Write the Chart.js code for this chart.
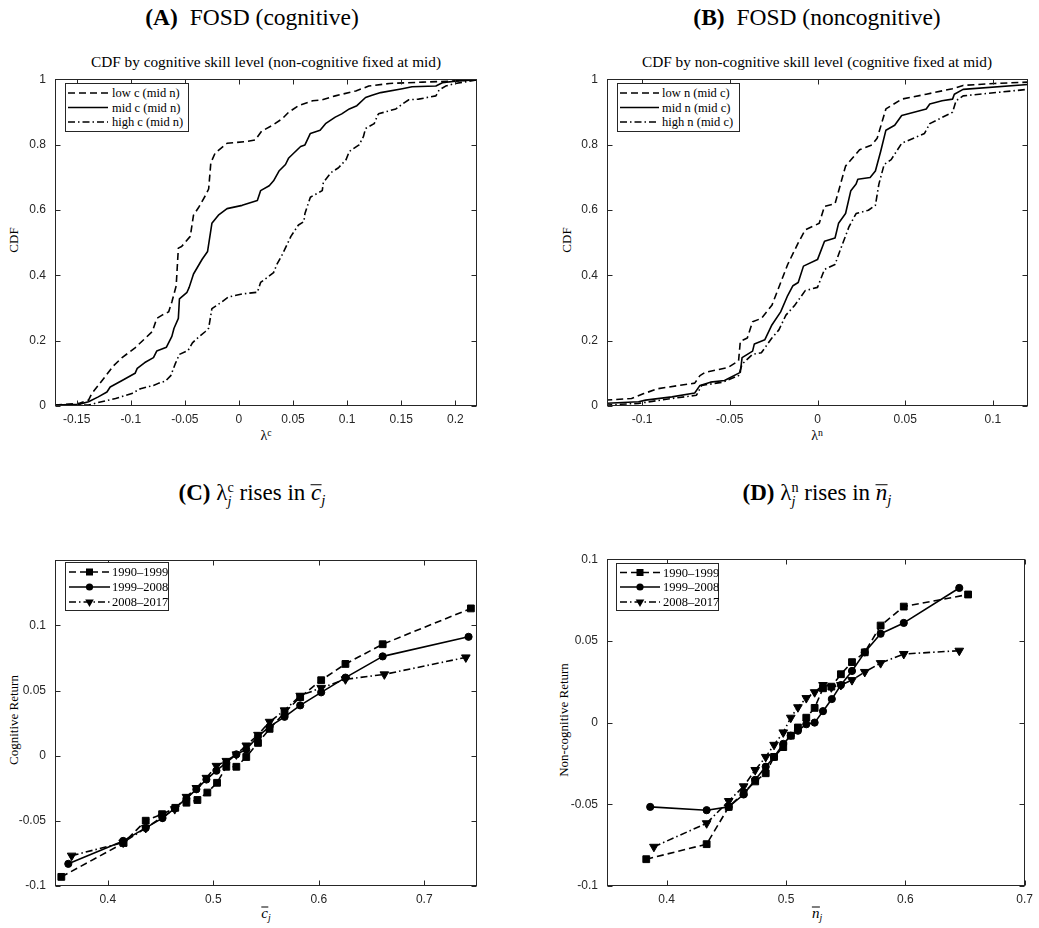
<!DOCTYPE html>
<html><head><meta charset="utf-8">
<script src="https://cdn.jsdelivr.net/npm/chart.js@4"></script>
<style>
html,body{margin:0;padding:0;background:#fff;overflow:hidden;width:1039px;height:928px;position:relative;}
.pc{position:absolute;}
.t{position:absolute;font-family:"Liberation Serif","Times New Roman",serif;color:#000;white-space:nowrap;transform:translate(-50%,-50%);line-height:1;}
.rot{transform:translate(-50%,-50%) rotate(-90deg);}
.ss{display:inline-block;vertical-align:-0.42em;line-height:0.95;font-size:0.62em;text-align:left;}
.ss span{display:block;}
.ov{display:inline-block;font-style:italic;border-top:1px solid #000;line-height:0.55em;padding-top:0.08em;}
.it{font-style:italic;}
sub.s{font-size:0.65em;vertical-align:-0.35em;line-height:0;}
sup.s{font-size:0.7em;vertical-align:0.45em;line-height:0;}
</style>
</head><body>

<div class="t" style="left:252px;top:18px;font-size:23.5px"><b>(A)</b>&nbsp; FOSD (cognitive)</div>
<div class="t" style="left:817px;top:18px;font-size:23.5px"><b>(B)</b>&nbsp; FOSD (noncognitive)</div>
<div class="t" style="left:252px;top:495px;font-size:23px"><b>(C)</b> λ<span class="ss"><span>c</span><span class="it">j</span></span> rises in <span class="ov">c</span><sub class="s it">j</sub></div>
<div class="t" style="left:817px;top:495px;font-size:23px"><b>(D)</b> λ<span class="ss"><span>n</span><span class="it">j</span></span> rises in <span class="ov">n</span><sub class="s it">j</sub></div>

<div class="t" style="left:266px;top:62px;font-size:15.3px">CDF by cognitive skill level (non-cognitive fixed at mid)</div>
<div class="t" style="left:817px;top:62px;font-size:15.3px">CDF by non-cognitive skill level (cognitive fixed at mid)</div>

<div class="t rot" style="left:13px;top:240px;font-size:13px">CDF</div>
<div class="t rot" style="left:566px;top:240px;font-size:13px">CDF</div>
<div class="t rot" style="left:13px;top:720px;font-size:13px">Cognitive Return</div>
<div class="t rot" style="left:563px;top:720px;font-size:13px">Non-cognitive Return</div>

<div class="t" style="left:266px;top:436px;font-size:14px">λ<sup class="s">c</sup></div>
<div class="t" style="left:817px;top:436px;font-size:14px">λ<sup class="s">n</sup></div>
<div class="t" style="left:266px;top:913px;font-size:15px"><span class="ov">c</span><sub class="s it">j</sub></div>
<div class="t" style="left:817px;top:913px;font-size:15px"><span class="ov">n</span><sub class="s it">j</sub></div>

<script>
// ---------------- DATA ----------------
// Panel A: CDF by cognitive skill level
const A_low_x = [-0.17,-0.148,-0.139,-0.136,-0.13,-0.116,-0.108,-0.096,-0.080,-0.076,-0.071,-0.065,-0.062,-0.058,-0.056,-0.053,-0.045,-0.042,-0.037,-0.031,-0.028,-0.026,-0.022,-0.011,0.006,0.015,0.021,0.031,0.040,0.046,0.055,0.068,0.077,0.089,0.108,0.120,0.139,0.170,0.194,0.222];
const A_low_y = [0.003,0.008,0.018,0.038,0.063,0.123,0.148,0.178,0.228,0.268,0.278,0.288,0.318,0.368,0.483,0.488,0.519,0.584,0.609,0.644,0.664,0.744,0.774,0.804,0.809,0.814,0.841,0.859,0.879,0.899,0.919,0.934,0.937,0.949,0.964,0.979,0.987,0.991,0.994,0.999];
const A_mid_x = [-0.17,-0.148,-0.139,-0.13,-0.122,-0.119,-0.108,-0.096,-0.094,-0.087,-0.079,-0.076,-0.067,-0.062,-0.060,-0.056,-0.055,-0.048,-0.046,-0.042,-0.034,-0.029,-0.025,-0.019,-0.011,0.003,0.017,0.020,0.028,0.032,0.037,0.043,0.046,0.057,0.061,0.066,0.075,0.080,0.089,0.095,0.102,0.109,0.117,0.123,0.131,0.151,0.160,0.182,0.188,0.200,0.222];
const A_mid_y = [0.003,0.005,0.013,0.028,0.043,0.058,0.078,0.100,0.115,0.133,0.148,0.168,0.180,0.213,0.238,0.268,0.328,0.348,0.363,0.404,0.449,0.473,0.559,0.584,0.604,0.614,0.629,0.659,0.674,0.689,0.719,0.739,0.759,0.794,0.799,0.834,0.844,0.864,0.884,0.894,0.909,0.919,0.944,0.951,0.959,0.971,0.977,0.979,0.989,0.994,0.999];
const A_high_x = [-0.17,-0.139,-0.127,-0.114,-0.099,-0.091,-0.079,-0.074,-0.068,-0.063,-0.059,-0.055,-0.047,-0.043,-0.040,-0.031,-0.028,-0.025,-0.016,-0.010,0.003,0.017,0.020,0.028,0.032,0.035,0.040,0.048,0.055,0.060,0.061,0.066,0.077,0.078,0.085,0.092,0.099,0.102,0.111,0.115,0.117,0.125,0.128,0.129,0.145,0.151,0.157,0.166,0.182,0.185,0.191,0.200,0.222];
const A_high_y = [0.0,0.003,0.013,0.023,0.038,0.053,0.063,0.070,0.076,0.093,0.128,0.158,0.170,0.193,0.203,0.228,0.238,0.298,0.318,0.333,0.343,0.348,0.378,0.398,0.408,0.433,0.463,0.519,0.554,0.564,0.589,0.639,0.659,0.684,0.714,0.729,0.754,0.779,0.799,0.824,0.849,0.864,0.889,0.894,0.909,0.924,0.937,0.939,0.949,0.967,0.979,0.987,0.999];

// Panel B: CDF by non-cognitive skill level
const B_low_x = [-0.121,-0.106,-0.099,-0.091,-0.070,-0.067,-0.064,-0.051,-0.045,-0.044,-0.040,-0.037,-0.032,-0.026,-0.017,-0.011,-0.007,0.001,0.004,0.010,0.016,0.024,0.031,0.034,0.039,0.048,0.062,0.077,0.083,0.101,0.12];
const B_low_y = [0.018,0.023,0.038,0.053,0.070,0.093,0.103,0.118,0.138,0.198,0.208,0.258,0.268,0.308,0.433,0.499,0.539,0.559,0.611,0.619,0.734,0.784,0.799,0.819,0.909,0.939,0.954,0.971,0.981,0.987,0.991];
const B_mid_x = [-0.121,-0.102,-0.098,-0.083,-0.070,-0.067,-0.061,-0.053,-0.044,-0.043,-0.037,-0.036,-0.030,-0.026,-0.021,-0.017,-0.014,-0.011,-0.008,0.000,0.004,0.010,0.012,0.016,0.019,0.022,0.023,0.030,0.033,0.036,0.039,0.044,0.048,0.062,0.064,0.071,0.077,0.078,0.083,0.12];
const B_mid_y = [0.008,0.013,0.018,0.028,0.040,0.063,0.073,0.078,0.103,0.148,0.168,0.190,0.203,0.248,0.288,0.338,0.368,0.378,0.428,0.448,0.504,0.514,0.559,0.589,0.659,0.679,0.694,0.699,0.719,0.779,0.844,0.859,0.889,0.909,0.924,0.934,0.939,0.954,0.969,0.984];
const B_high_x = [-0.121,-0.102,-0.083,-0.069,-0.066,-0.054,-0.045,-0.043,-0.037,-0.032,-0.026,-0.022,-0.018,-0.013,-0.007,0.000,0.004,0.010,0.013,0.018,0.022,0.029,0.033,0.035,0.038,0.042,0.048,0.061,0.064,0.077,0.079,0.083,0.12];
const B_high_y = [0.003,0.008,0.023,0.033,0.063,0.073,0.093,0.128,0.158,0.163,0.208,0.233,0.278,0.308,0.353,0.363,0.418,0.433,0.478,0.549,0.589,0.599,0.614,0.679,0.739,0.754,0.804,0.834,0.864,0.899,0.934,0.949,0.969];

// Panel C: cognitive return vs mean c
const C_9099_x = [0.356,0.415,0.436,0.4515,0.464,0.4746,0.485,0.4944,0.5036,0.5124,0.5219,0.5313,0.5424,0.5534,0.5676,0.5824,0.6023,0.6253,0.6606,0.7442];
const C_9099_y = [-0.093,-0.067,-0.0499,-0.0449,-0.040,-0.0361,-0.034,-0.0283,-0.0208,-0.0085,-0.0085,-0.001,0.0098,0.0206,0.033,0.0449,0.0579,0.0704,0.0855,0.113];
const C_9908_x = [0.3626,0.4146,0.436,0.4519,0.4635,0.4746,0.484,0.4935,0.503,0.5124,0.5219,0.5313,0.5424,0.5534,0.5676,0.5824,0.6023,0.6253,0.6606,0.742];
const C_9908_y = [-0.083,-0.0654,-0.0554,-0.0479,-0.0404,-0.0328,-0.0258,-0.0183,-0.0115,-0.0053,0.001,0.0048,0.0148,0.0223,0.0298,0.0386,0.0486,0.0599,0.0762,0.0912];
const C_0817_x = [0.3658,0.4146,0.436,0.4519,0.4635,0.4746,0.484,0.4935,0.503,0.5124,0.5219,0.5313,0.5424,0.5534,0.5676,0.5824,0.6023,0.6253,0.6622,0.7394];
const C_0817_y = [-0.0767,-0.0667,-0.0555,-0.047,-0.041,-0.0316,-0.0248,-0.017,-0.0078,-0.004,0.001,0.0078,0.016,0.026,0.0348,0.046,0.052,0.0586,0.0624,0.0754];

// Panel D: non-cognitive return vs mean n
const D_9099_x = [0.3829,0.4335,0.452,0.4645,0.4742,0.483,0.490,0.4977,0.504,0.510,0.517,0.524,0.531,0.538,0.546,0.5553,0.566,0.5793,0.5987,0.6526];
const D_9099_y = [-0.0836,-0.0744,-0.0516,-0.043,-0.036,-0.031,-0.021,-0.015,-0.008,-0.003,0.003,0.009,0.021,0.022,0.0296,0.037,0.043,0.0594,0.071,0.0784];
const D_9908_x = [0.3862,0.4335,0.452,0.4645,0.4742,0.483,0.490,0.4977,0.504,0.510,0.517,0.524,0.531,0.5384,0.546,0.5553,0.566,0.5793,0.5987,0.6452];
const D_9908_y = [-0.0516,-0.0536,-0.0516,-0.044,-0.035,-0.027,-0.021,-0.013,-0.008,-0.005,-0.001,0.0,0.007,0.0144,0.023,0.0316,0.043,0.0544,0.061,0.0824];
const D_0817_x = [0.3893,0.4335,0.452,0.4645,0.4742,0.483,0.490,0.4977,0.504,0.510,0.517,0.524,0.531,0.538,0.546,0.5553,0.566,0.5793,0.5987,0.6452];
const D_0817_y = [-0.076,-0.0616,-0.048,-0.039,-0.029,-0.021,-0.0136,-0.006,0.003,0.0094,0.015,0.0186,0.023,0.0216,0.023,0.026,0.031,0.0364,0.042,0.044];

// Labels and ticks
const A_labels = ['low c (mid n)','mid c (mid n)','high c (mid n)'];
const B_labels = ['low n (mid c)','mid n (mid c)','high n (mid c)'];
const period_labels = ['1990\u20131999','1999\u20132008','2008\u20132017'];
const A_xticks = [-0.15,-0.1,-0.05,0,0.05,0.1,0.15,0.2];
const B_xticks = [-0.1,-0.05,0,0.05,0.1];
const cdf_yticks = [0,0.2,0.4,0.6,0.8,1];
const C_xticks = [0.4,0.5,0.6,0.7];
const D_xticks = [0.4,0.5,0.6,0.7];
const ret_yticks = [-0.1,-0.05,0,0.05,0.1];

// ---------------- STYLE ----------------
const AX = '#262626';
const DASH = [7,4];
const DASHDOT = [7,3,1.5,3];
const styles = [
  {dash: DASH, marker: 'rect', rot: 0, r: 4.8},
  {dash: [], marker: 'circle', rot: 0, r: 3.6},
  {dash: DASHDOT, marker: 'triangle', rot: 180, r: 5}
];
const zip = (xs, ys) => xs.map((x, i) => ({x, y: ys[i]}));
const fmt = v => String(Number(v.toFixed(3)));

const boxPlugin = {
  id: 'matlabBox',
  afterDraw(chart) {
    const {ctx, chartArea: a, scales: {x, y}} = chart;
    ctx.save();
    ctx.strokeStyle = AX; ctx.lineWidth = 1;
    const L = Math.round(a.left) + 0.5, R = Math.round(a.right) - 0.5;
    const T = Math.round(a.top) + 0.5, B = Math.round(a.bottom) - 0.5;
    ctx.strokeRect(L, T, R - L, B - T);
    const tl = 5;
    ctx.beginPath();
    x.ticks.forEach(t => {
      const px = Math.round(x.getPixelForValue(t.value)) + 0.5;
      ctx.moveTo(px, B); ctx.lineTo(px, B - tl);
      ctx.moveTo(px, T); ctx.lineTo(px, T + tl);
    });
    y.ticks.forEach(t => {
      const py = Math.round(y.getPixelForValue(t.value)) + 0.5;
      ctx.moveTo(L, py); ctx.lineTo(L + tl, py);
      ctx.moveTo(R, py); ctx.lineTo(R - tl, py);
    });
    ctx.stroke();
    ctx.restore();
  }
};

function makePanel(rect, padR, datasets, xr, yr, xt, yt) {
  const [L, T, R, B] = rect;
  const yw = 50, xh = 30, padT = 10;
  const div = document.createElement('div');
  div.className = 'pc';
  const W = (R - L) + yw + padR, H = (B - T) + padT + xh;
  div.style.left = (L - yw) + 'px';
  div.style.top = (T - padT) + 'px';
  const cv = document.createElement('canvas');
  cv.width = W; cv.height = H;
  cv.style.width = W + 'px'; cv.style.height = H + 'px';
  div.appendChild(cv);
  document.body.appendChild(div);
  const tickFont = {family: '"Liberation Sans", Arial, sans-serif', size: 12};
  new Chart(cv, {
    type: 'line',
    data: {datasets},
    options: {
      responsive: false, animation: false, maintainAspectRatio: false,
      layout: {padding: {left: 0, top: padT, right: padR, bottom: 0}},
      plugins: {legend: {display: false}, tooltip: {enabled: false}, title: {display: false}},
      elements: {line: {tension: 0, borderJoinStyle: 'round'}},
      scales: {
        x: {type: 'linear', min: xr[0], max: xr[1],
            grid: {display: false, drawTicks: false}, border: {display: false},
            ticks: {font: tickFont, color: AX, padding: 6, maxRotation: 0, autoSkip: false, callback: fmt},
            afterBuildTicks: s => { s.ticks = xt.map(v => ({value: v})); },
            afterFit: s => { s.height = xh; }},
        y: {type: 'linear', min: yr[0], max: yr[1],
            grid: {display: false, drawTicks: false}, border: {display: false},
            ticks: {font: tickFont, color: AX, padding: 9, autoSkip: false, callback: fmt},
            afterBuildTicks: s => { s.ticks = yt.map(v => ({value: v})); },
            afterFit: s => { s.width = yw; }}
      }
    },
    plugins: [boxPlugin]
  });
}

function cdfSets(series, labels) {
  return series.map((s, i) => ({
    label: labels[i], data: zip(s[0], s[1]),
    borderColor: '#000', borderWidth: 1.6, borderDash: styles[i].dash,
    pointRadius: 0, fill: false
  }));
}
function markSets(series, labels) {
  return series.map((s, i) => ({
    label: labels[i], data: zip(s[0], s[1]),
    borderColor: '#000', backgroundColor: '#000', borderWidth: 1.6, borderDash: styles[i].dash,
    pointStyle: styles[i].marker, pointRotation: styles[i].rot, pointRadius: styles[i].r,
    pointBackgroundColor: '#000', pointBorderColor: '#000', pointBorderWidth: 1, fill: false
  }));
}

makePanel([55, 73, 477, 406], 20,
  cdfSets([[A_low_x, A_low_y], [A_mid_x, A_mid_y], [A_high_x, A_high_y]], A_labels),
  [-0.17, 0.22], [0, 1], A_xticks, cdf_yticks);
makePanel([607, 73, 1028, 406], 11,
  cdfSets([[B_low_x, B_low_y], [B_mid_x, B_mid_y], [B_high_x, B_high_y]], B_labels),
  [-0.12, 0.12], [0, 1], B_xticks, cdf_yticks);
makePanel([55, 554, 477, 886], 20,
  markSets([[C_9099_x, C_9099_y], [C_9908_x, C_9908_y], [C_0817_x, C_0817_y]], period_labels),
  [0.35, 0.75], [-0.1, 0.15], C_xticks, ret_yticks);
makePanel([607, 553, 1028, 886], 11,
  markSets([[D_9099_x, D_9099_y], [D_9908_x, D_9908_y], [D_0817_x, D_0817_y]], period_labels),
  [0.35, 0.7], [-0.1, 0.1], D_xticks, ret_yticks);

// ---------------- LEGENDS (SVG) ----------------
const NS = 'http://www.w3.org/2000/svg';
function legend(left, top, w, h, rows, sx0, sx1, tx, labels, withMarkers) {
  const svg = document.createElementNS(NS, 'svg');
  svg.setAttribute('width', w + 1); svg.setAttribute('height', h + 1);
  svg.style.position = 'absolute'; svg.style.left = left + 'px'; svg.style.top = top + 'px';
  let html = `<rect x="0.5" y="0.5" width="${w - 1}" height="${h - 1}" fill="#fff" stroke="${AX}" stroke-width="1"/>`;
  labels.forEach((lab, i) => {
    const y = rows[i];
    const st = styles[i];
    html += `<line x1="${sx0}" y1="${y}" x2="${sx1}" y2="${y}" stroke="#000" stroke-width="1.6" ${st.dash.length ? `stroke-dasharray="${st.dash.join(',')}"` : ''}/>`;
    if (withMarkers) {
      const mx = (sx0 + sx1) / 2;
      if (st.marker === 'rect') html += `<rect x="${mx - 3.5}" y="${y - 3.5}" width="7" height="7" fill="#000"/>`;
      else if (st.marker === 'circle') html += `<circle cx="${mx}" cy="${y}" r="3.6" fill="#000"/>`;
      else html += `<polygon points="${mx - 4.3},${y - 2.5} ${mx + 4.3},${y - 2.5} ${mx},${y + 5}" fill="#000"/>`;
    }
    html += `<text x="${tx}" y="${y + 4}" font-family="Liberation Serif, Times New Roman, serif" font-size="12.5" fill="#000">${lab}</text>`;
  });
  svg.innerHTML = html;
  document.body.appendChild(svg);
}
legend(65, 83, 124, 49, [10, 24.5, 39], 3, 43, 47, A_labels, false);
legend(617, 83, 123, 49, [10, 24.5, 39], 3, 42, 45, B_labels, false);
legend(65, 562, 104, 49, [10, 25, 40], 4, 45, 47, period_labels, true);
legend(616, 563, 103, 48, [9.5, 24, 39], 4, 44, 47, period_labels, true);
</script>
</body></html>
